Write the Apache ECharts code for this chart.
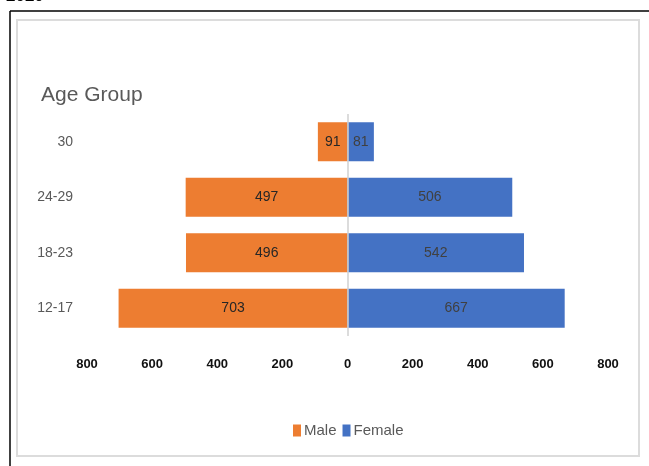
<!DOCTYPE html>
<html>
<head>
<meta charset="utf-8">
<script src="https://cdn.jsdelivr.net/npm/echarts@6/dist/echarts.min.js"></script>
<style>
    html, body { margin: 0; padding: 0; background: #fff; }
    #chart { width: 649px; height: 466px; }
</style>
</head>
<body>
<div id="chart"></div>
<script>
var ageGroups = ['12-17', '18-23', '24-29', '30'];
var maleData = [703, 496, 497, 91];
var femaleData = [667, 542, 506, 81];
var FONT = '"Liberation Sans Narrow", "Liberation Sans", Arial, sans-serif';

function negate(arr) {
    var out = [];
    for (var i = 0; i < arr.length; i++) {
        out.push(-arr[i]);
    }
    return out;
}

var myChart = echarts.init(document.getElementById('chart'));
var option = {
    backgroundColor: '#FFFFFF',
    animation: false,
    textStyle: { fontFamily: FONT },
    graphic: [
        // outer black frame (top and left edges)
        { type: 'line', shape: { x1: 10, y1: 11, x2: 649, y2: 11 }, style: { stroke: '#000', lineWidth: 1.5 } },
        { type: 'line', shape: { x1: 10, y1: 11, x2: 10, y2: 466 }, style: { stroke: '#000', lineWidth: 1.5 } },
        // chart area border
        { type: 'rect', shape: { x: 17, y: 20, width: 622, height: 436 }, style: { fill: 'none', stroke: '#dcdcdc', lineWidth: 2 } },
        // heading above the frame, cut off by the page edge
        { type: 'text', x: 6, y: 5, style: { text: '2020', font: 'bold 17px ' + FONT, fill: '#000', verticalAlign: 'bottom' } }
    ],
    title: {
        text: 'Age Group',
        left: 36,
        top: 80,
        textStyle: { fontSize: 21, fontWeight: 'normal', color: '#595959', fontFamily: FONT }
    },
    legend: {
        data: ['Male', 'Female'],
        left: 288,
        top: 418,
        itemWidth: 8,
        itemHeight: 12,
        itemGap: 6,
        icon: 'rect',
        textStyle: { fontSize: 15, color: '#595959', fontFamily: FONT, padding: [0, 0, 0, -2] }
    },
    grid: {
        left: 87,
        right: 41,
        top: 114,
        bottom: 130
    },
    xAxis: {
        type: 'value',
        min: -800,
        max: 800,
        interval: 200,
        axisLine: { show: false },
        axisTick: { show: false },
        splitLine: { show: false },
        axisLabel: {
            margin: 22,
            fontSize: 13,
            fontWeight: 'bold',
            color: '#111',
            fontFamily: FONT,
            formatter: function (v) { return Math.abs(v); }
        }
    },
    yAxis: {
        type: 'category',
        data: ageGroups,
        axisLine: { show: false },
        axisTick: { show: false },
        axisLabel: { margin: 14, fontSize: 14, color: '#595959', fontFamily: FONT }
    },
    series: [
        {
            name: 'Male',
            type: 'bar',
            stack: 'pop',
            barWidth: '70%',
            data: negate(maleData),
            itemStyle: { color: '#ED7D31' },
            label: {
                show: true,
                position: 'inside',
                fontSize: 14,
                color: '#262626',
                fontFamily: FONT,
                formatter: function (p) { return Math.abs(p.value); }
            },
            markLine: {
                silent: true,
                symbol: 'none',
                label: { show: false },
                lineStyle: { color: '#d0d0d0', width: 1.5, type: 'solid' },
                data: [{ xAxis: 0 }]
            }
        },
        {
            name: 'Female',
            type: 'bar',
            stack: 'pop',
            barWidth: '70%',
            data: femaleData,
            itemStyle: { color: '#4472C4' },
            label: {
                show: true,
                position: 'inside',
                fontSize: 14,
                color: '#404040',
                fontFamily: FONT
            }
        }
    ]
};
myChart.setOption(option);
</script>
</body>
</html>
